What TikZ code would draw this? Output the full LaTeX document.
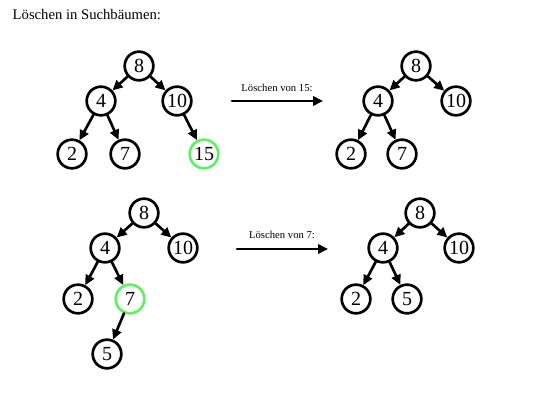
\documentclass[tikz,border=0pt]{standalone}
\usepackage{fontspec}
\setmainfont{Liberation Serif}
\usetikzlibrary{arrows.meta}
\definecolor{hellgruen}{rgb}{0.4,0.93,0.4}

\begin{document}
\begin{tikzpicture}[line cap=round,line join=round,>={Triangle[length=7.5pt,width=7pt]},x=0.75pt,y=-0.75pt,
  knoten/.style={circle,draw,line width=2pt,minimum size=21.5pt,inner sep=0pt,font=\fontsize{15}{18}\selectfont},
  geloescht/.style={knoten,draw=hellgruen},
  kante/.style={->,line width=2pt},
  schritt/.style={font=\fontsize{8}{10}\selectfont}]
\useasboundingbox (0,0) rectangle (555,416);
\node[anchor=west,font=\fontsize{11}{13}\selectfont] (titel) at (8,15) {Löschen in Suchbäumen:};
% oben links
\node[knoten] (a8) at (139,66) {8};
\node[knoten] (a4) at (101,101) {4};
\node[knoten] (a10) at (177,101) {10};
\node[knoten] (a2) at (72,154) {2};
\node[knoten] (a7) at (125,154) {7};
\node[geloescht] (a15) at (204,154) {15};
\draw[kante] (a8) -- (a4);
\draw[kante] (a8) -- (a10);
\draw[kante] (a4) -- (a2);
\draw[kante] (a4) -- (a7);
\draw[kante] (a10) -- (a15);
% Pfeil oben
\coordinate (p1) at (232,101);
\coordinate (p2) at (323,101);
\draw[kante] (p1) -- (p2);
\node[schritt] (s1) at (277,88) {Löschen von 15:};
% oben rechts
\node[knoten] (b8) at (416,66) {8};
\node[knoten] (b4) at (378,101) {4};
\node[knoten] (b10) at (456,101) {10};
\node[knoten] (b2) at (351,154) {2};
\node[knoten] (b7) at (402,154) {7};
\draw[kante] (b8) -- (b4);
\draw[kante] (b8) -- (b10);
\draw[kante] (b4) -- (b2);
\draw[kante] (b4) -- (b7);
% unten links
\node[knoten] (c8) at (144,213) {8};
\node[knoten] (c4) at (105,248) {4};
\node[knoten] (c10) at (183,248) {10};
\node[knoten] (c2) at (78,299) {2};
\node[geloescht] (c7) at (130,299) {7};
\node[knoten] (c5) at (107,354) {5};
\draw[kante] (c8) -- (c4);
\draw[kante] (c8) -- (c10);
\draw[kante] (c4) -- (c2);
\draw[kante] (c4) -- (c7);
\draw[kante] (c7) -- (c5);
% Pfeil unten
\coordinate (p3) at (237,249);
\coordinate (p4) at (328,249);
\draw[kante] (p3) -- (p4);
\node[schritt] (s2) at (282,235) {Löschen von 7:};
% unten rechts
\node[knoten] (d8) at (420,213) {8};
\node[knoten] (d4) at (383,248) {4};
\node[knoten] (d10) at (459,248) {10};
\node[knoten] (d2) at (356,299) {2};
\node[knoten] (d5) at (407,299) {5};
\draw[kante] (d8) -- (d4);
\draw[kante] (d8) -- (d10);
\draw[kante] (d4) -- (d2);
\draw[kante] (d4) -- (d5);
\end{tikzpicture}
\end{document}
